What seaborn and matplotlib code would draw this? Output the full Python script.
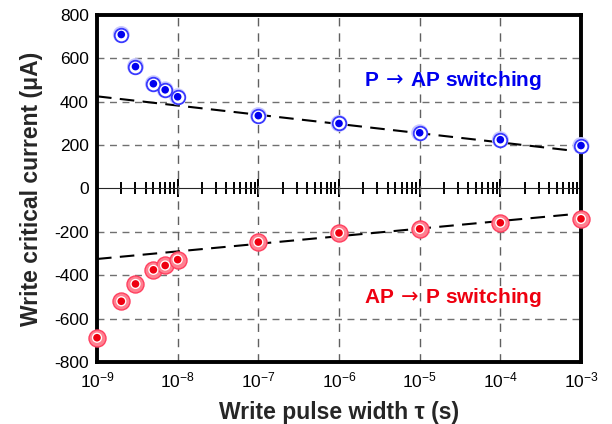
import numpy as np
import pandas as pd
import matplotlib
matplotlib.use("Agg")
import matplotlib.pyplot as plt
import seaborn as sns
from matplotlib.ticker import LogLocator, NullFormatter, FixedLocator

# ---- data ----
pulse_width = [1e-9, 2e-9, 3e-9, 5e-9, 7e-9, 1e-8, 1e-7, 1e-6, 1e-5, 1e-4, 1e-3]
p_to_ap_x = pulse_width[1:]
p_to_ap = [710, 562, 483, 455, 423, 336, 300, 257, 225, 198]
ap_to_p_x = pulse_width
ap_to_p = [-688, -520, -440, -375, -355, -328, -247, -205, -186, -158, -140]
fit_x = [1e-9, 1e-3]
p_to_ap_fit = [425, 170]
ap_to_p_fit = [-325, -115]
x_ticks = [1e-9, 1e-8, 1e-7, 1e-6, 1e-5, 1e-4, 1e-3]
x_tick_labels = [r"$\mathregular{10^{-9}}$", r"$\mathregular{10^{-8}}$", r"$\mathregular{10^{-7}}$",
                 r"$\mathregular{10^{-6}}$", r"$\mathregular{10^{-5}}$", r"$\mathregular{10^{-4}}$",
                 r"$\mathregular{10^{-3}}$"]
y_ticks = [800, 600, 400, 200, 0, -200, -400, -600, -800]
grid_y = [600, 400, 200, -200, -400, -600]
grid_x = [1e-8, 1e-7, 1e-6, 1e-5, 1e-4]

sns.set_style("white")
plt.rcParams['font.family'] = ['Liberation Sans', 'DejaVu Sans']
plt.rcParams['mathtext.fontset'] = 'dejavusans'

fig = plt.figure(figsize=(6.12, 4.24), dpi=100)
ax = fig.add_axes([97/612, 1-362/424, (581-97)/612, (362-15)/424])
ax.set_xscale("log")
ax.set_xlim(1e-9, 1e-3)
ax.set_ylim(-800, 800)

# grid lines
for gy in grid_y:
    ax.axhline(gy, color="#707070", lw=1.0, dashes=(5, 4), zorder=1)
for gx in grid_x:
    ax.axvline(gx, color="#606060", lw=1.0, dashes=(6, 5), zorder=1)

# trend lines
sns.lineplot(x=fit_x, y=p_to_ap_fit, ax=ax, color="black", lw=1.5, dashes=False, zorder=3)
sns.lineplot(x=fit_x, y=ap_to_p_fit, ax=ax, color="black", lw=1.5, dashes=False, zorder=3)
for ln in ax.lines[-2:]:
    ln.set_dashes((7, 4))

# markers: blue
df_b = pd.DataFrame({"x": p_to_ap_x, "y": p_to_ap})
df_r = pd.DataFrame({"x": ap_to_p_x, "y": ap_to_p})
sns.scatterplot(data=df_b, x="x", y="y", ax=ax, s=150, color="#c8c8ff", edgecolor="none", zorder=4, clip_on=False)
sns.scatterplot(data=df_b, x="x", y="y", ax=ax, s=95, color="white", edgecolor="#3a3aff", linewidth=1.3, zorder=5, clip_on=False)
sns.scatterplot(data=df_b, x="x", y="y", ax=ax, s=30, color="#0000ee", edgecolor="none", zorder=6, clip_on=False)
# markers: red
sns.scatterplot(data=df_r, x="x", y="y", ax=ax, s=150, color="#ff8090", edgecolor="#ff4060", linewidth=1.0, zorder=4, clip_on=False)
sns.scatterplot(data=df_r, x="x", y="y", ax=ax, s=55, color="white", edgecolor="none", zorder=5, clip_on=False)
sns.scatterplot(data=df_r, x="x", y="y", ax=ax, s=30, color="#ee0010", edgecolor="none", zorder=6, clip_on=False)

# zero line with ticks (secondary axis placed at y=0)
sec = ax.secondary_xaxis(0.5)
sec.spines["bottom"].set_linewidth(1.5)
sec.xaxis.set_major_locator(LogLocator(base=10, numticks=20))
sec.xaxis.set_minor_locator(LogLocator(base=10, subs=np.arange(2, 10), numticks=20))
sec.xaxis.set_major_formatter(NullFormatter())
sec.xaxis.set_minor_formatter(NullFormatter())
sec.tick_params(axis="x", which="major", direction="inout", length=13, width=1.4, color="black")
sec.tick_params(axis="x", which="minor", direction="inout", length=9, width=1.4, color="black")

# main ticks
ax.xaxis.set_major_locator(FixedLocator(x_ticks))
ax.set_xticklabels(x_tick_labels)
ax.xaxis.set_minor_locator(FixedLocator([]))
ax.set_yticks(y_ticks)
ax.set_yticklabels([str(v) for v in y_ticks])
ax.tick_params(axis="both", which="both", length=0, labelsize=12.5, colors="black")
ax.tick_params(axis="x", pad=6)
ax.tick_params(axis="y", pad=6)

for sp in ax.spines.values():
    sp.set_visible(True)
    sp.set_linewidth(2.8)
    sp.set_color("black")

ax.set_xlabel("Write pulse width \u03c4 (s)", fontsize=16.5, fontweight="bold", labelpad=8)
ax.set_ylabel("Write critical current (\u03bcA)", fontsize=16.5, fontweight="bold", labelpad=8)

ax.text(0.735, 0.81, r"P$\,\rightarrow\,$AP switching", transform=ax.transAxes, color="#0000ee",
        fontsize=15, fontweight="bold", ha="center", va="center")
ax.text(0.735, 0.185, r"AP$\,\rightarrow\,$P switching", transform=ax.transAxes, color="#ee0010",
        fontsize=15, fontweight="bold", ha="center", va="center")

fig.savefig("out.png", dpi=100)
